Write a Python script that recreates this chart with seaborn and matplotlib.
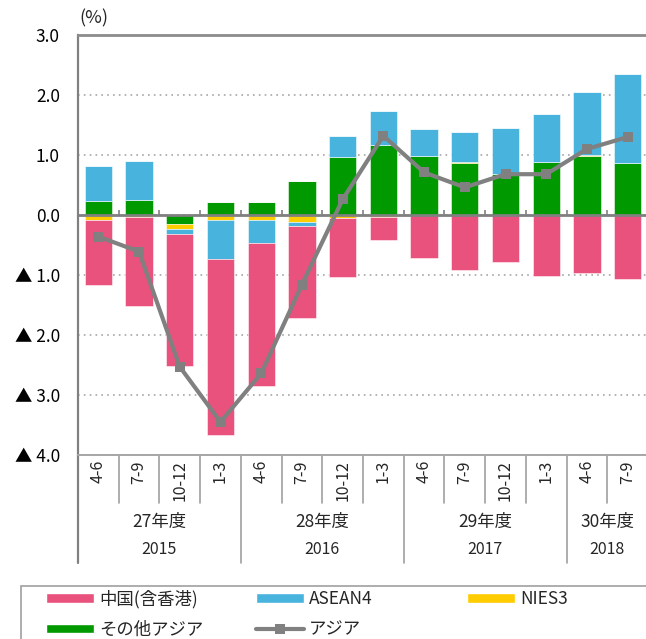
import numpy as np
import seaborn as sns
import matplotlib
import matplotlib.pyplot as plt
from matplotlib.patches import Patch, Rectangle
from matplotlib.lines import Line2D

# Use a non-interactive backend
matplotlib.use('Agg')

# quarters (x axis) and the two label rows below them
quarters = ['4-6', '7-9', '10-12', '1-3',
            '4-6', '7-9', '10-12', '1-3',
            '4-6', '7-9', '10-12', '1-3',
            '4-6', '7-9']
fiscal_years = ['27年度', '28年度', '29年度', '30年度']
years = ['2015', '2016', '2017', '2018']
group_sizes = [4, 4, 4, 2]

# contributions (%pt)
china = [-1.09, -1.48, -2.20, -2.93, -2.38, -1.53, -0.99, -0.37, -0.71, -0.91, -0.78, -1.01, -0.96, -1.06]
asean = [0.59, 0.65, -0.09, -0.65, -0.39, -0.07, 0.34, 0.56, 0.45, 0.50, 0.76, 0.79, 1.05, 1.49]
nies = [-0.08, -0.04, -0.08, -0.08, -0.08, -0.11, -0.05, -0.04, 0.0, 0.02, 0.0, 0.0, 0.02, 0.0]
other = [0.23, 0.25, -0.15, 0.22, 0.21, 0.56, 0.97, 1.17, 0.98, 0.86, 0.69, 0.89, 0.98, 0.86]
asia = [-0.36, -0.61, -2.53, -3.45, -2.64, -1.16, 0.26, 1.32, 0.71, 0.46, 0.68, 0.68, 1.10, 1.30]

PINK = '#E9527C'
BLUE = '#48B4DE'
YELLOW = '#FFCC00'
GREEN = '#009A00'
GRAY = '#808080'

sns.set_style('white')
plt.rcParams['font.family'] = ['Noto Sans CJK JP', 'DejaVu Sans']

fig = plt.figure(figsize=(6.46, 6.39), dpi=100)
ax = fig.add_axes([78 / 646, 1 - 455 / 639, 570 / 646, 420 / 639])

x = np.arange(len(quarters))

# stacked bars: stacking order outward from zero
layers = [(other, GREEN), (nies, YELLOW), (asean, BLUE), (china, PINK)]
pos_base = np.zeros(len(x))
neg_base = np.zeros(len(x))
for vals, col in layers:
    v = np.array(vals)
    up = np.where(v > 0, v, 0.0)
    dn = np.where(v < 0, v, 0.0)
    sns.barplot(x=x, y=up, bottom=pos_base.copy(), color=col, saturation=1,
                width=0.67, edgecolor=(1, 1, 1, 0.6), linewidth=0.6,
                errorbar=None, ax=ax, zorder=2)
    sns.barplot(x=x, y=dn, bottom=neg_base.copy(), color=col, saturation=1,
                width=0.67, edgecolor=(1, 1, 1, 0.6), linewidth=0.6,
                errorbar=None, ax=ax, zorder=2)
    pos_base += up
    neg_base += dn

# total line
sns.lineplot(x=x, y=asia, color=GRAY, linewidth=3, marker='s', markersize=7,
             markeredgewidth=0, ax=ax, zorder=5, legend=False)

ax.set_xlim(-0.5, len(x) - 0.5)
ax.set_ylim(-4, 3)
yt = [3, 2, 1, 0, -1, -2, -3, -4]
ax.set_yticks(yt)
ax.set_yticklabels([f'{v:.1f}' if v >= 0 else f'▲ {abs(v):.1f}' for v in yt], fontsize=12.5)
ax.tick_params(axis='y', length=0, pad=13, colors='black')
ax.tick_params(axis='x', length=0, labelbottom=False)
ax.set_xlabel('')
ax.set_ylabel('')

ax.grid(axis='y', color='#A6A6A6', linestyle=(0, (1, 2.5)), linewidth=1.2)
ax.grid(axis='x', visible=False)
ax.set_axisbelow(True)

ax.spines['right'].set_visible(False)
ax.spines['left'].set_color(GRAY)
ax.spines['left'].set_linewidth(1.6)
ax.spines['top'].set_color('#8C8C8C')
ax.spines['top'].set_linewidth(2)
ax.spines['bottom'].set_color('#A6A6A6')
ax.spines['bottom'].set_linewidth(1.4)

# zero line with small category ticks
ax.axhline(0, color=GRAY, linewidth=2, zorder=4)
ax.vlines(x[:-1] + 0.5, 0, 0.09, color=GRAY, linewidth=1.2, zorder=4)

# multi-level category labels under the axes
trans = ax.get_xaxis_transform()
for i, q in enumerate(quarters):
    ax.text(i, -0.012, q, rotation=90, ha='center', va='top', fontsize=11.5, transform=trans)

starts = np.cumsum([0] + group_sizes[:-1])
for st, size, fy, yr in zip(starts, group_sizes, fiscal_years, years):
    c = st + size / 2 - 0.5
    ax.text(c, -0.159, fy, ha='center', va='center', fontsize=12.5, transform=trans)
    ax.text(c, -0.226, yr, ha='center', va='center', fontsize=11.5, transform=trans)

for k in range(len(x)):
    b = k - 0.5
    if k in starts:
        ax.plot([b, b], [0, -0.256], transform=trans, clip_on=False,
                color=GRAY if k == 0 else '#A0A0A0', linewidth=1.6 if k == 0 else 1.2)
    else:
        ax.plot([b, b], [0, -0.114], transform=trans, clip_on=False,
                color='#A0A0A0', linewidth=1.2)

fig.text(79 / 646, 1 - 18 / 639, '(%)', ha='left', va='center', fontsize=13)

# legend, laid out in three columns inside an open box
legend_cols = [
    ([Patch(facecolor=PINK), Patch(facecolor=GREEN)], ['中国(含香港)', 'その他アジア'], 46),
    ([Patch(facecolor=BLUE), Line2D([], [], color=GRAY, linewidth=3, marker='s',
                                    markersize=7, markeredgewidth=0)], ['ASEAN4', 'アジア'], 256),
    ([Patch(facecolor=YELLOW)], ['NIES3'], 467),
]
for handles, labels, xpx in legend_cols:
    fig.legend(handles, labels, loc='upper left', bbox_to_anchor=(xpx / 646, 1 - 590 / 639),
               frameon=False, borderpad=0, borderaxespad=0, handlelength=2.75,
               handleheight=0.5, handletextpad=0.3, labelspacing=0.7, fontsize=12.5)

fig.add_artist(Rectangle((21 / 646, -0.1), 1.0, (639 - 585.5) / 639 + 0.1,
                         transform=fig.transFigure, fill=False,
                         edgecolor='#A0A0A0', linewidth=1.2))

fig.savefig('out.png', dpi=100)
